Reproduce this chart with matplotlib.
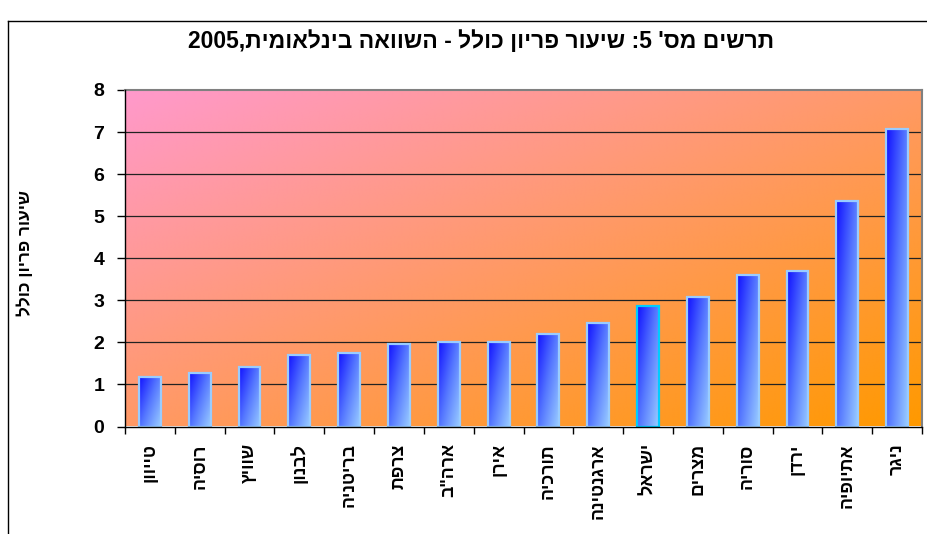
import numpy as np
import matplotlib
matplotlib.use("Agg")
import matplotlib.pyplot as plt
from matplotlib.lines import Line2D
from matplotlib.colors import LinearSegmentedColormap

# ---- data -------------------------------------------------------------
countries = ["טייוון", "רוסיה", "שוויץ", "לבנון", "בריטניה", "צרפת", 'ארה"ב',
             "אירן", "תורכיה", "ארגנטינה", "ישראל", "מצרים", "סוריה", "ירדן",
             "אתיופיה", "ניגר"]
fertility = [1.18, 1.28, 1.42, 1.71, 1.75, 1.95, 2.00, 2.00, 2.20, 2.47,
             2.86, 3.08, 3.61, 3.70, 5.37, 7.08]
highlight = "ישראל"
y_ticks = [0, 1, 2, 3, 4, 5, 6, 7, 8]
title = "תרשים מס' 5: שיעור פריון כולל - השוואה בינלאומית,2005"
y_title = "שיעור פריון כולל"


def visual(s):
    """Right-to-left display order: reverse the text, keep digit runs LTR."""
    r = s[::-1]
    out, run = [], ""
    for ch in r:
        if ch.isdigit():
            run += ch
        else:
            if run:
                out.append(run[::-1])
                run = ""
            out.append(ch)
    if run:
        out.append(run[::-1])
    return "".join(out)


FONT = ["Liberation Sans", "DejaVu Sans"]
plt.rcParams["font.family"] = FONT

W, H, DPI = 928, 534, 100
fig = plt.figure(figsize=(W / DPI, H / DPI), dpi=DPI)
fig.patch.set_facecolor("white")

# plot area in pixels
px_l, px_r, px_t, px_b = 125, 922, 90, 426.5
ax = fig.add_axes([px_l / W, 1 - px_b / H, (px_r - px_l) / W, (px_b - px_t) / H])

n = len(countries)
x = np.arange(n)


def set_limits():
    ax.set_xlim(-0.5, n - 0.5)
    ax.set_ylim(y_ticks[0], y_ticks[-1])


# diagonal pink -> orange background
bg_cmap = LinearSegmentedColormap.from_list("bg", ["#FF99CC", "#FF9966", "#FF9900"])
gx, gy = np.meshgrid(np.linspace(0, 1, 400), np.linspace(1, 0, 200))
ax.imshow(bg_cmap((gx + (1 - gy)) / 2), extent=[0, 1, 0, 1], transform=ax.transAxes,
          aspect="auto", zorder=0, interpolation="bilinear")

# horizontal gridlines
for v in y_ticks[1:-1]:
    ax.axhline(v, color="#222222", lw=0.9, zorder=1)

# bars with a blue gradient fill
bar_cmap = LinearSegmentedColormap.from_list("bar", ["#1010FF", "#5577FF", "#99CCFF"])
edges = ["#00CCFF" if c == highlight else "#99CCFF" for c in countries]
bars = ax.bar(x, fertility, width=0.44, facecolor="none", edgecolor=edges,
              linewidth=1.6, zorder=3)
bx, by = np.meshgrid(np.linspace(0, 1, 40), np.linspace(1, 0, 200))
grad = bar_cmap(0.55 * bx + 0.45 * (1 - by))
for p in bars:
    x0, w, h = p.get_x(), p.get_width(), p.get_height()
    ax.imshow(grad, extent=[x0, x0 + w, 0, h], aspect="auto", zorder=2,
              interpolation="bilinear")
set_limits()

# spines
for s in ("top", "right"):
    ax.spines[s].set_color("#808080")
    ax.spines[s].set_linewidth(1.5)
for s in ("left", "bottom"):
    ax.spines[s].set_color("black")
    ax.spines[s].set_linewidth(1.0)
    ax.spines[s].set_zorder(5)

# y axis
ax.set_yticks(y_ticks)
ax.set_yticklabels([str(v) for v in y_ticks], fontsize=14, fontweight="bold")
ax.tick_params(axis="y", direction="out", length=6, width=1, pad=9)

# x axis: labels at categories, tick marks between them
ax.set_xticks(x)
ax.set_xticklabels([visual(c) for c in countries], rotation=90, ha="center", va="top",
                   fontsize=12.8, fontweight="bold")
ax.set_xticks(np.arange(-0.5, n, 1.0), minor=True)
ax.tick_params(axis="x", which="major", length=0, pad=12)
ax.tick_params(axis="x", which="minor", direction="out", length=5, width=1)

fig.text(25 / W, 1 - 253.5 / H, visual(y_title), rotation=90, ha="center", va="center",
         fontsize=12.4, fontweight="bold")

fig.text(481 / W, 1 - 41.5 / H, visual(title), ha="center", va="center",
         fontsize=16.5, fontweight="bold")

# outer chart frame (left and top edges)
fig.add_artist(Line2D([7.5 / W, 7.5 / W], [0, 1 - 20.5 / H], color="black", lw=1.0))
fig.add_artist(Line2D([7.5 / W, 1], [1 - 20.5 / H, 1 - 20.5 / H], color="black", lw=1.0))

fig.savefig("out.png", dpi=DPI)
